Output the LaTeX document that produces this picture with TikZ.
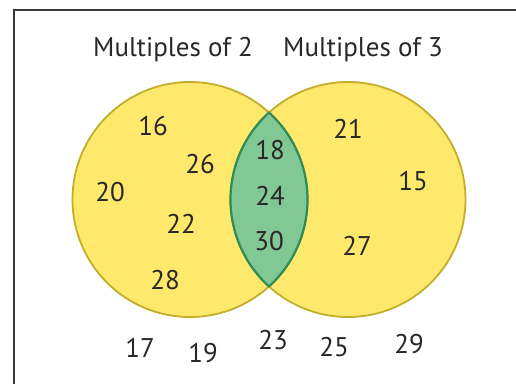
\documentclass[tikz,border=0pt]{standalone}
\usepackage{fontspec}
\setmainfont{PT Sans}
\definecolor{vyellow}{HTML}{FFE96C}
\definecolor{vyedge}{HTML}{C3AE2A}
\definecolor{vgreen}{HTML}{82C894}
\definecolor{vgedge}{HTML}{2E8B5A}
\definecolor{vtext}{HTML}{2A2728}
\definecolor{vframe}{HTML}{3A3A3A}
\tikzset{
  num/.style={inner sep=0pt, text=vtext, font=\fontsize{27}{31}\selectfont},
  title/.style={inner sep=0pt, anchor=base, text=vtext, font=\fontsize{27}{31}\selectfont},
  lens/.style={fill=vgreen, draw=vgedge, line width=2.2pt, line join=round},
}
\begin{document}
\begin{tikzpicture}[x=1pt,y=1pt]
\useasboundingbox (0,0) rectangle (516,383);
% frame
\coordinate (fbl) at (14,-5);
\coordinate (ftl) at (14,373);
\coordinate (ftr) at (521,373);
\draw[vframe, line width=1.3pt] (fbl) -- (ftl) -- (ftr);
% circles
\coordinate (cl) at (190,183.5);
\coordinate (cr) at (348,183.5);
\coordinate (itop) at (269,270.5);
\fill[vyellow] (cl) circle[radius=117.5pt];
\fill[vyellow] (cr) circle[radius=117.5pt];
\draw[vyedge, line width=1.8pt] (cl) circle[radius=117.5pt];
\draw[vyedge, line width=1.8pt] (cr) circle[radius=117.5pt];
\path[lens] (itop) arc[start angle=132.24, end angle=227.76, radius=117.5pt]
  arc[start angle=-47.76, end angle=47.76, radius=117.5pt] -- cycle;
% titles
\node[title] (t2) at (173,326) {Multiples of 2};
\node[title] (t3) at (363,326) {Multiples of 3};
% left only
\node[num] (n16) at (153,257) {16};
\node[num] (n26) at (200,219) {26};
\node[num] (n20) at (110,191) {20};
\node[num] (n22) at (181,159) {22};
\node[num] (n28) at (165,103) {28};
% both
\node[num] (n18) at (270,233) {18};
\node[num] (n24) at (270,187) {24};
\node[num] (n30) at (269,142) {30};
% right only
\node[num] (n21) at (348,254) {21};
\node[num] (n15) at (413,202) {15};
\node[num] (n27) at (357,137) {27};
% outside
\node[num] (n17) at (140,35) {17};
\node[num] (n19) at (203,30) {19};
\node[num] (n23) at (273,43) {23};
\node[num] (n25) at (334,36) {25};
\node[num] (n29) at (409,39) {29};
\end{tikzpicture}
\end{document}
